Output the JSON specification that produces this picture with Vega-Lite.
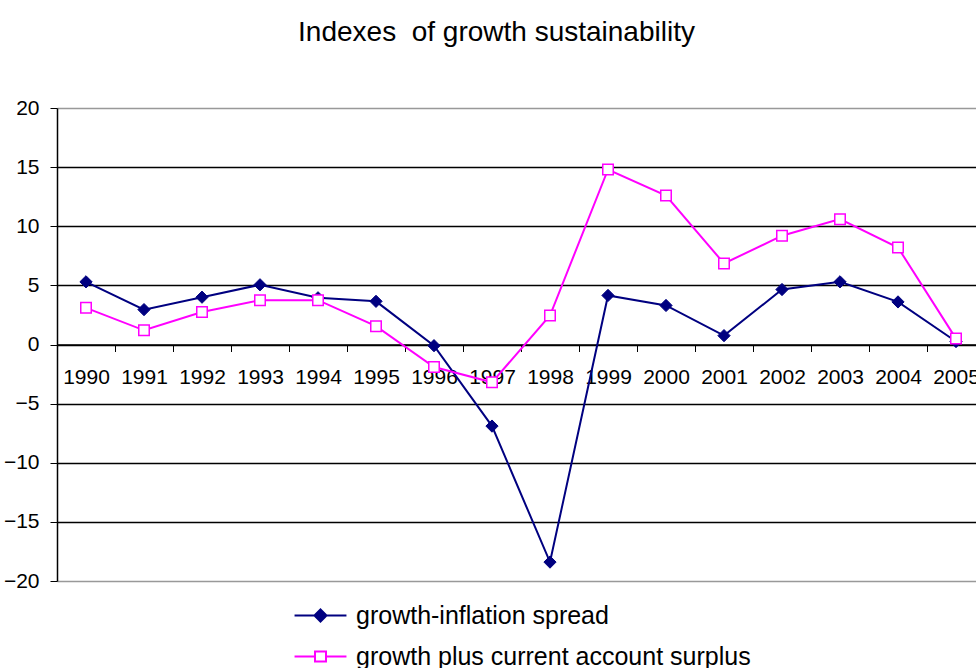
{
  "$schema": "https://vega.github.io/schema/vega-lite/v6.json",
  "autosize": "none",
  "padding": {"left": 57, "top": 108, "right": 0, "bottom": 87},
  "width": 919,
  "height": 473,
  "background": "white",
  "config": {
    "font": "Liberation Sans",
    "view": {"stroke": null},
    "axis": {"labelFont": "Liberation Sans", "labelColor": "black", "domainColor": "black", "tickColor": "black"}
  },
  "title": {
    "text": "Indexes\u00a0 of growth sustainability",
    "font": "Liberation Sans",
    "fontSize": 28,
    "fontWeight": "normal",
    "color": "black",
    "anchor": "middle",
    "dx": -20,
    "offset": 50
  },
  "data": {
    "values": [
      {"year": "1990", "series": "growth-inflation spread", "value": 5.3},
      {"year": "1991", "series": "growth-inflation spread", "value": 2.95},
      {"year": "1992", "series": "growth-inflation spread", "value": 4.0},
      {"year": "1993", "series": "growth-inflation spread", "value": 5.05},
      {"year": "1994", "series": "growth-inflation spread", "value": 3.95},
      {"year": "1995", "series": "growth-inflation spread", "value": 3.65},
      {"year": "1996", "series": "growth-inflation spread", "value": -0.1},
      {"year": "1997", "series": "growth-inflation spread", "value": -6.9},
      {"year": "1998", "series": "growth-inflation spread", "value": -18.4},
      {"year": "1999", "series": "growth-inflation spread", "value": 4.15},
      {"year": "2000", "series": "growth-inflation spread", "value": 3.3},
      {"year": "2001", "series": "growth-inflation spread", "value": 0.75},
      {"year": "2002", "series": "growth-inflation spread", "value": 4.65},
      {"year": "2003", "series": "growth-inflation spread", "value": 5.3},
      {"year": "2004", "series": "growth-inflation spread", "value": 3.6},
      {"year": "2005", "series": "growth-inflation spread", "value": 0.25},
      {"year": "1990", "series": "growth plus current account surplus", "value": 3.1},
      {"year": "1991", "series": "growth plus current account surplus", "value": 1.2},
      {"year": "1992", "series": "growth plus current account surplus", "value": 2.75},
      {"year": "1993", "series": "growth plus current account surplus", "value": 3.75},
      {"year": "1994", "series": "growth plus current account surplus", "value": 3.75},
      {"year": "1995", "series": "growth plus current account surplus", "value": 1.55},
      {"year": "1996", "series": "growth plus current account surplus", "value": -1.9},
      {"year": "1997", "series": "growth plus current account surplus", "value": -3.2},
      {"year": "1998", "series": "growth plus current account surplus", "value": 2.45},
      {"year": "1999", "series": "growth plus current account surplus", "value": 14.8},
      {"year": "2000", "series": "growth plus current account surplus", "value": 12.6},
      {"year": "2001", "series": "growth plus current account surplus", "value": 6.85},
      {"year": "2002", "series": "growth plus current account surplus", "value": 9.2},
      {"year": "2003", "series": "growth plus current account surplus", "value": 10.6},
      {"year": "2004", "series": "growth plus current account surplus", "value": 8.2},
      {"year": "2005", "series": "growth plus current account surplus", "value": 0.5}
    ]
  },
  "encoding": {
    "x": {
      "field": "year",
      "type": "ordinal",
      "scale": {"type": "band", "range": [0, 928], "paddingInner": 0, "paddingOuter": 0},
      "axis": {
        "title": null,
        "orient": "bottom",
        "offset": -236.5,
        "labelAngle": 0,
        "labelFontSize": 21,
        "labelPadding": 15,
        "tickSize": 7,
        "tickBand": "extent",
        "domainWidth": 1.5,
        "grid": false
      }
    },
    "y": {
      "field": "value",
      "type": "quantitative",
      "scale": {"domain": [-20, 20], "nice": false, "zero": false},
      "axis": {
        "title": null,
        "values": [-20, -15, -10, -5, 0, 5, 10, 15, 20],
        "labelFontSize": 21,
        "labelPadding": 11,
        "tickSize": 7,
        "domainWidth": 1.5,
        "grid": true,
        "gridColor": {"condition": {"test": "abs(datum.value) == 20", "value": "#999999"}, "value": "black"},
        "gridWidth": 1.5
      }
    }
  },
  "layer": [
    {
      "transform": [{"filter": "datum.series == 'growth-inflation spread'"}],
      "mark": {"type": "line", "color": "#000080", "strokeWidth": 2}
    },
    {
      "transform": [{"filter": "datum.series == 'growth plus current account surplus'"}],
      "mark": {"type": "line", "color": "#FF00FF", "strokeWidth": 2}
    },
    {
      "transform": [{"filter": "datum.series == 'growth-inflation spread'"}],
      "mark": {"type": "point", "shape": "diamond", "filled": true, "fill": "#000080", "stroke": "#000080", "strokeWidth": 1, "size": 150, "opacity": 1}
    },
    {
      "transform": [{"filter": "datum.series == 'growth plus current account surplus'"}],
      "mark": {"type": "point", "shape": "square", "fill": "#ffffff", "stroke": "#FF00FF", "strokeWidth": 1.5, "size": 110, "opacity": 1}
    },
    {
      "transform": [{"filter": "false"}],
      "mark": {"type": "point", "strokeWidth": 2, "opacity": 1},
      "encoding": {
        "shape": {
          "field": "series",
          "type": "nominal",
          "scale": {
            "domain": ["growth-inflation spread", "growth plus current account surplus"],
            "range": [
              "M-2.36,0L2.36,0M0,-0.55L0.55,0L0,0.55L-0.55,0Z",
              "M-2.36,0L-0.5,0M0.5,0L2.36,0M-0.5,-0.45L0.5,-0.45L0.5,0.45L-0.5,0.45Z"
            ]
          },
          "legend": {
            "title": null,
            "orient": "none",
            "legendX": 251,
            "legendY": 495,
            "direction": "vertical",
            "padding": 0,
            "symbolSize": 484,
            "symbolStrokeWidth": 2,
            "labelFontSize": 25,
            "labelFont": "Liberation Sans",
            "labelColor": "black",
            "labelOffset": 23,
            "labelLimit": 0,
            "rowPadding": 15
          }
        },
        "stroke": {
          "field": "series",
          "type": "nominal",
          "scale": {
            "domain": ["growth-inflation spread", "growth plus current account surplus"],
            "range": ["#000080", "#FF00FF"]
          }
        },
        "fill": {
          "field": "series",
          "type": "nominal",
          "scale": {
            "domain": ["growth-inflation spread", "growth plus current account surplus"],
            "range": ["#000080", "#ffffff"]
          }
        }
      }
    }
  ]
}
